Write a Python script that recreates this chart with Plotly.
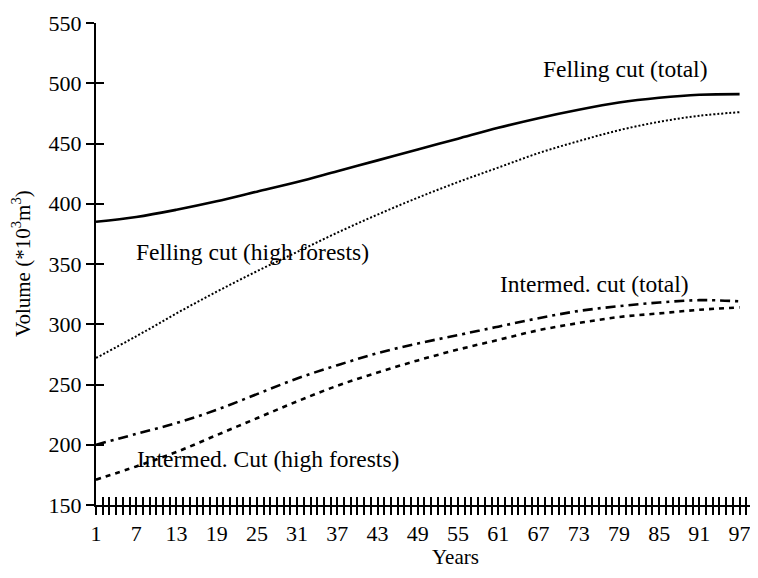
import plotly.graph_objects as go

years = [1, 7, 13, 19, 25, 31, 37, 43, 49, 55, 61, 67, 73, 79, 85, 91, 97]
felling_total = [385, 389, 395, 402, 410, 418, 427, 436, 445, 454, 463, 471, 478, 484, 488, 490.5, 491]
felling_high = [272, 290, 309, 327, 344, 360, 376, 391, 405, 418, 430, 442, 452, 461, 468, 473, 476]
intermed_total = [200, 209, 218, 229, 242, 255, 266, 276, 284, 291, 298, 305, 311, 315, 318, 320, 319]
intermed_high = [171, 182, 194, 208, 222, 236, 249, 260, 270, 279, 287, 295, 301, 306, 309, 312, 314]

x_ticks = list(range(1, 100))
x_labels = [str(v) if (v - 1) % 6 == 0 and v <= 97 else "" for v in x_ticks]
y_ticks = [150, 200, 250, 300, 350, 400, 450, 500, 550]
y_labels = [str(v) for v in y_ticks]

FONT = "Liberation Serif"
XR = [1, 99.3]
YR = [150, 550]

fig = go.Figure()
fig.add_trace(go.Scatter(x=years, y=felling_total, mode="lines", line=dict(color="black", width=2.6, shape="spline"), name="Felling cut (total)"))
fig.add_trace(go.Scatter(x=years, y=felling_high, mode="lines", line=dict(color="black", width=2, dash="2px,2px", shape="spline"), name="Felling cut (high forests)"))
fig.add_trace(go.Scatter(x=years, y=intermed_total, mode="lines", line=dict(color="black", width=2.6, dash="10px,5px,3px,5px", shape="spline"), name="Intermed. cut (total)"))
fig.add_trace(go.Scatter(x=years, y=intermed_high, mode="lines", line=dict(color="black", width=2.6, dash="5px,5px", shape="spline"), name="Intermed. Cut (high forests)"))
# empty trace to register overlay axes (inner halves of crossing ticks)
fig.add_trace(go.Scatter(x=[], y=[], xaxis="x2", yaxis="y2", showlegend=False, hoverinfo="skip"))

labels = [
    ("Felling cut (total)", 79.9, 511.5),
    ("Felling cut (high forests)", 24.4, 360),
    ("Intermed. cut (total)", 75.3, 333.5),
    ("Intermed. Cut (high forests)", 26.7, 188.5),
]
for text, lx, ly in labels:
    fig.add_annotation(x=lx, y=ly, text=text, showarrow=False, xanchor="center", yanchor="middle",
                       font=dict(family=FONT, size=23.5, color="black"))

fig.add_annotation(x=0.545, y=-0.108, xref="paper", yref="paper", text="Years", showarrow=False,
                   xanchor="center", yanchor="middle", font=dict(family=FONT, size=21, color="black"))
fig.add_annotation(x=-0.1138, y=0.5, xref="paper", yref="paper", text="Volume (*10<sup>3</sup>m<sup>3</sup>)",
                   showarrow=False, textangle=-90, xanchor="center", yanchor="middle",
                   font=dict(family=FONT, size=21, color="black"))

# page body has an 8px default margin: figure is sized/offset to compensate
fig.update_layout(
    width=750, height=570,
    margin=dict(l=88, r=3, t=7, b=73),
    paper_bgcolor="white", plot_bgcolor="white",
    showlegend=False,
    font=dict(family=FONT, size=22, color="black"),
    xaxis=dict(range=XR, tickmode="array", tickvals=x_ticks, ticktext=x_labels,
               ticks="outside", ticklen=8, tickwidth=2, tickcolor="black", ticklabeloverflow="allow",
               showline=True, linecolor="black", linewidth=2, showgrid=False, zeroline=False,
               tickfont=dict(family=FONT, size=22, color="black")),
    yaxis=dict(range=YR, tickmode="array", tickvals=y_ticks, ticktext=y_labels,
               ticks="outside", ticklen=8, tickwidth=2, tickcolor="black", ticklabeloverflow="allow",
               showline=True, linecolor="black", linewidth=2, showgrid=False, zeroline=False,
               tickfont=dict(family=FONT, size=22, color="black")),
    xaxis2=dict(range=XR, overlaying="x", anchor="y", side="bottom", tickmode="array", tickvals=x_ticks,
                ticks="inside", ticklen=8, tickwidth=2, tickcolor="black",
                showticklabels=False, showline=False, showgrid=False, zeroline=False),
    yaxis2=dict(range=YR, overlaying="y", anchor="x", side="left", tickmode="array", tickvals=y_ticks,
                ticks="inside", ticklen=8, tickwidth=2, tickcolor="black",
                showticklabels=False, showline=False, showgrid=False, zeroline=False),
)

fig.write_html("out.html")
